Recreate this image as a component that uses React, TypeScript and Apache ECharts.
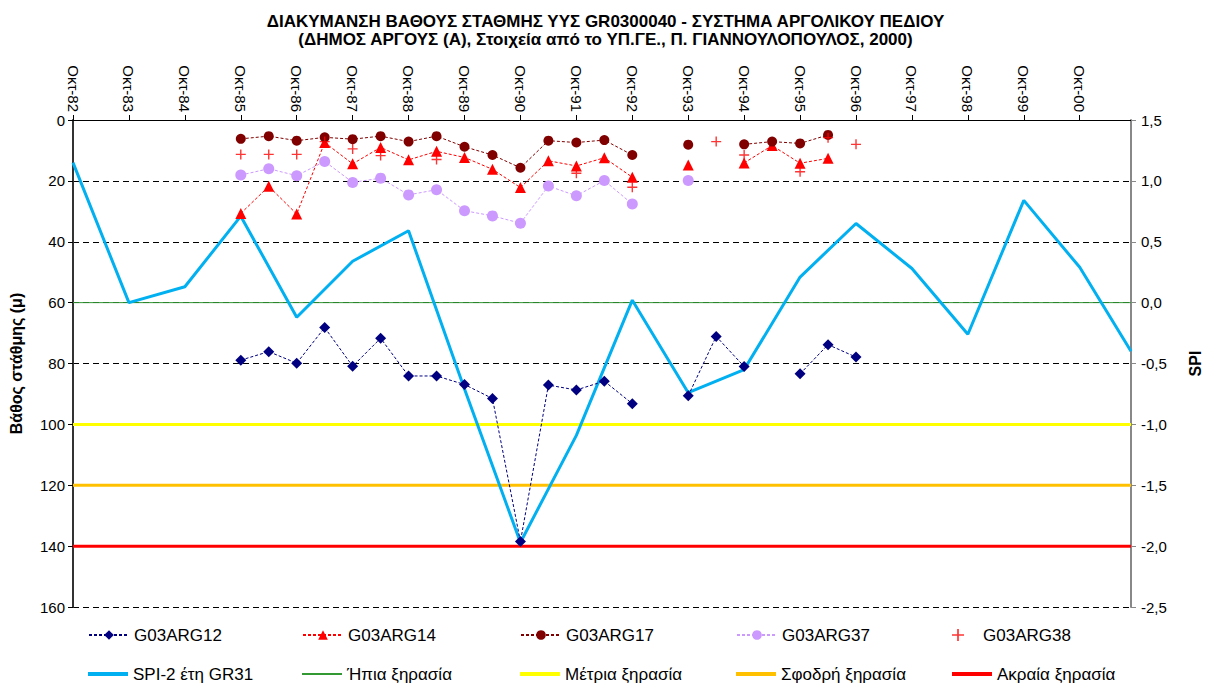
import React, { useEffect, useRef } from "react";
import * as echarts from "echarts";

// ---- Data ----
const TITLE_LINE1 = "ΔΙΑΚΥΜΑΝΣΗ ΒΑΘΟΥΣ ΣΤΑΘΜΗΣ ΥΥΣ GR0300040 - ΣΥΣΤΗΜΑ ΑΡΓΟΛΙΚΟΥ ΠΕΔΙΟΥ";
const TITLE_LINE2 = "(ΔΗΜΟΣ ΑΡΓΟΥΣ (Α), Στοιχεία από το ΥΠ.ΓΕ., Π. ΓΙΑΝΝΟΥΛΟΠΟΥΛΟΣ, 2000)";

// Observation dates of the wells (semi-annual: October / April)
const wellDates: string[] = [
  "1985-10", "1986-04", "1986-10", "1987-04", "1987-10", "1988-04", "1988-10", "1989-04",
  "1989-10", "1990-04", "1990-10", "1991-04", "1991-10", "1992-04", "1992-10", "1993-04",
  "1993-10", "1994-04", "1994-10", "1995-04", "1995-10", "1996-04", "1996-10",
];

const g03arg12: (number | null)[] = [
  78.9, 76.1, 79.9, 68.2, 80.9, 71.7, 84.1, 84.1, 86.9, 91.5, 138.5, 87.1,
  88.7, 85.8, 93.2, null, 90.6, 71.1, 81.0, null, 83.4, 73.8, 77.9,
];
const g03arg14: (number | null)[] = [
  30.7, 21.8, 30.9, 7.4, 14.4, 9.0, 13.1, 10.3, 12.3, 16.2, 22.2, 13.4,
  15.1, 12.4, 18.8, null, 14.8, null, 14.1, 8.4, 14.2, 12.6, null,
];
const g03arg17: (number | null)[] = [
  6.2, 5.3, 6.8, 5.7, 6.3, 5.3, 7.1, 5.3, 8.8, 11.5, 15.7, 6.8,
  7.4, 6.6, 11.5, null, 8.1, null, 8.0, 7.1, 7.7, 4.9, null,
];
const g03arg37: (number | null)[] = [
  18.1, 16.0, 18.3, 13.6, 20.5, 19.1, 24.6, 22.9, 29.8, 31.5, 33.9, 21.7,
  24.9, 19.9, 27.6, null, 19.9, null, null, null, null, null, null,
];
const g03arg38: (number | null)[] = [
  11.3, 11.3, 11.3, 7.1, 9.5, 11.7, null, 13.0, null, null, null, null,
  17.5, null, 22.1, null, null, 7.1, 11.5, null, 17.0, 5.8, 8.0,
];

// SPI-2 years GR31 (yearly, October)
const spiDates: string[] = [
  "1982-10", "1983-10", "1984-10", "1985-10", "1986-10", "1987-10", "1988-10",
  "1989-10", "1990-10", "1991-10", "1992-10", "1993-10", "1994-10", "1995-10",
  "1996-10", "1997-10", "1998-10", "1999-10", "2000-10", "2001-09",
];
const spiValues: number[] = [
  1.15, 0.0, 0.13, 0.71, -0.12, 0.34, 0.59, -0.71, -1.97, -1.09, 0.02,
  -0.74, -0.55, 0.21, 0.65, 0.28, -0.26, 0.84, 0.29, -0.4,
];

// Drought thresholds (SPI)
const thresholdNames: string[] = ["Ήπια ξηρασία", "Μέτρια ξηρασία", "Σφοδρή ξηρασία", "Ακραία ξηρασία"];
const thresholdValues: number[] = [0, -1.0, -1.5, -2.0];
const thresholdColors: string[] = ["#339933", "#FFFF00", "#FFC000", "#FF0000"];
const thresholdWidths: number[] = [1, 3, 3, 3];

// Axis settings
const AXIS_START = "1982-10";
const AXIS_END = "2001-09";
const depthTicks = { min: 0, max: 160, interval: 20 };
const spiTicks = { min: -2.5, max: 1.5, interval: 0.5 };
const monthNamesGr = ["Ιαν", "Φεβ", "Μαρ", "Απρ", "Μαϊ", "Ιουν", "Ιουλ", "Αυγ", "Σεπ", "Οκτ", "Νοε", "Δεκ"];

// ---- helpers ----
const [BASE_Y, BASE_M] = AXIS_START.split("-").map(Number);
function monthIndex(d: string): number {
  const [y, m] = d.split("-").map(Number);
  return (y - BASE_Y) * 12 + (m - BASE_M);
}
function pair(dates: string[], values: (number | null)[]) {
  return dates.map((d, i) => [monthIndex(d), values[i] == null ? "-" : values[i]]);
}

const FONT = "'Liberation Sans', Arial, sans-serif";
const PLUS_PATH = "path://M8.6,0H11.4V8.6H20V11.4H11.4V20H8.6V11.4H0V8.6H8.6Z";

export default function App() {
  const ref = useRef<HTMLDivElement>(null);

  useEffect(() => {
    document.body.style.margin = "0";
    if (!ref.current) return;
    const chart = echarts.init(ref.current, null, { renderer: "svg" });
    const xMax = monthIndex(AXIS_END);

    const wellSeries = [
      { name: "G03ARG12", data: g03arg12, symbol: "diamond", size: 11, color: "#000080" },
      { name: "G03ARG14", data: g03arg14, symbol: "triangle", size: 11, color: "#FF0000" },
      { name: "G03ARG17", data: g03arg17, symbol: "circle", size: 10, color: "#800000" },
      { name: "G03ARG37", data: g03arg37, symbol: "circle", size: 11, color: "#CC99FF" },
    ].map((s) => ({
      name: s.name,
      type: "line",
      yAxisIndex: 0,
      data: pair(wellDates, s.data),
      symbol: s.symbol,
      symbolSize: s.size,
      showAllSymbol: true,
      connectNulls: false,
      itemStyle: { color: s.color },
      lineStyle: { color: s.color, width: 1, type: [3, 2] },
      z: 5,
    }));

    const plusSeries = {
      name: "G03ARG38",
      type: "scatter",
      yAxisIndex: 0,
      data: pair(wellDates, g03arg38).filter((p) => p[1] !== "-"),
      symbol: PLUS_PATH,
      symbolSize: 10,
      itemStyle: { color: "#FF0000" },
      z: 6,
    };

    const spiSeries = {
      name: "SPI-2 έτη GR31",
      type: "line",
      yAxisIndex: 1,
      data: pair(spiDates, spiValues),
      symbol: "none",
      itemStyle: { color: "#00B0F0" },
      lineStyle: { color: "#00B0F0", width: 3 },
      z: 4,
    };

    const thresholdSeries = thresholdNames.map((n, i) => ({
      name: n,
      type: "line",
      yAxisIndex: 1,
      data: [
        [0, thresholdValues[i]],
        [xMax, thresholdValues[i]],
      ],
      symbol: "none",
      itemStyle: { color: thresholdColors[i] },
      lineStyle: { color: thresholdColors[i], width: thresholdWidths[i] },
      z: 3,
    }));

    const legendRow1 = ["G03ARG12", "G03ARG14", "G03ARG17", "G03ARG37", "G03ARG38"];
    const legendRow2 = ["SPI-2 έτη GR31", ...thresholdNames];
    const row2Heights = [4, ...thresholdWidths.map((w) => Math.max(2, w + 1))];
    const legendLefts = [88, 302, 520, 736, 952];
    const legends: any[] = [];
    [legendRow1, legendRow2].forEach((row, r) => {
      row.forEach((name, i) => {
        const plain = r === 1;
        const h = plain ? row2Heights[i] : 12;
        legends.push({
          data: [plain ? { name, icon: "rect" } : name],
          left: legendLefts[i],
          top: (r === 0 ? 635 : 674) - 10,
          height: 20,
          padding: 0,
          itemWidth: 40,
          itemHeight: h,
          itemGap: 0,
          selectedMode: false,
          textStyle: { fontFamily: FONT, fontSize: 17, color: "#000", lineHeight: 20 },
        });
      });
    });

    chart.setOption({
      animation: false,
      backgroundColor: "#fff",
      title: [
        {
          text: TITLE_LINE1,
          left: "center",
          top: 8,
          textStyle: { fontFamily: FONT, fontSize: 17, fontWeight: "bold", color: "#000", lineHeight: 17 },
        },
        {
          text: TITLE_LINE2,
          left: "center",
          top: 26,
          textStyle: { fontFamily: FONT, fontSize: 17, fontWeight: "bold", color: "#000", lineHeight: 17 },
        },
      ],
      legend: legends,
      grid: { left: 73, right: 76, top: 120, bottom: 81, containLabel: false },
      xAxis: {
        type: "value",
        position: "top",
        min: 0,
        max: xMax,
        interval: 12,
        axisLine: { show: true, onZero: false, lineStyle: { color: "#000", width: 1 } },
        axisTick: { show: true, inside: false, length: 5, lineStyle: { color: "#000" } },
        splitLine: { show: false },
        axisLabel: {
          rotate: 90,
          margin: 8,
          fontFamily: FONT,
          fontSize: 15,
          color: "#000",
          showMaxLabel: false,
          formatter: (v: number) => {
            if (v % 12 !== 0) return "";
            const total = BASE_Y * 12 + (BASE_M - 1) + v;
            const y = Math.floor(total / 12);
            const m = total % 12;
            return monthNamesGr[m] + "-" + String(y % 100).padStart(2, "0");
          },
        },
      },
      yAxis: [
        {
          type: "value",
          inverse: true,
          min: depthTicks.min,
          max: depthTicks.max,
          interval: depthTicks.interval,
          name: "Βάθος στάθμης (μ)",
          nameLocation: "middle",
          nameRotate: 90,
          nameGap: 49,
          nameTextStyle: { fontFamily: FONT, fontSize: 16, fontWeight: "bold", color: "#000" },
          axisLine: { show: true, onZero: false, lineStyle: { color: "#333", width: 2 } },
          axisTick: { show: true, inside: false, length: 5, lineStyle: { color: "#000" } },
          axisLabel: { fontFamily: FONT, fontSize: 15, color: "#000", margin: 8 },
          splitLine: { show: true, lineStyle: { color: "#000", width: 1, type: [6, 4] } },
        },
        {
          type: "value",
          position: "right",
          min: spiTicks.min,
          max: spiTicks.max,
          interval: spiTicks.interval,
          name: "SPI",
          nameLocation: "middle",
          nameRotate: 90,
          nameGap: 56,
          nameTextStyle: { fontFamily: FONT, fontSize: 16, fontWeight: "bold", color: "#000" },
          axisLine: { show: true, onZero: false, lineStyle: { color: "#888", width: 2 } },
          axisTick: { show: true, inside: false, length: 5, lineStyle: { color: "#888" } },
          axisLabel: {
            fontFamily: FONT,
            fontSize: 15,
            color: "#000",
            margin: 10,
            formatter: (v: number) => v.toFixed(1).replace(".", ","),
          },
          splitLine: { show: false },
        },
      ],
      series: [...thresholdSeries, spiSeries, ...wellSeries, plusSeries],
    });

    return () => chart.dispose();
  }, []);

  return <div ref={ref} style={{ width: 1211, height: 688 }} />;
}
